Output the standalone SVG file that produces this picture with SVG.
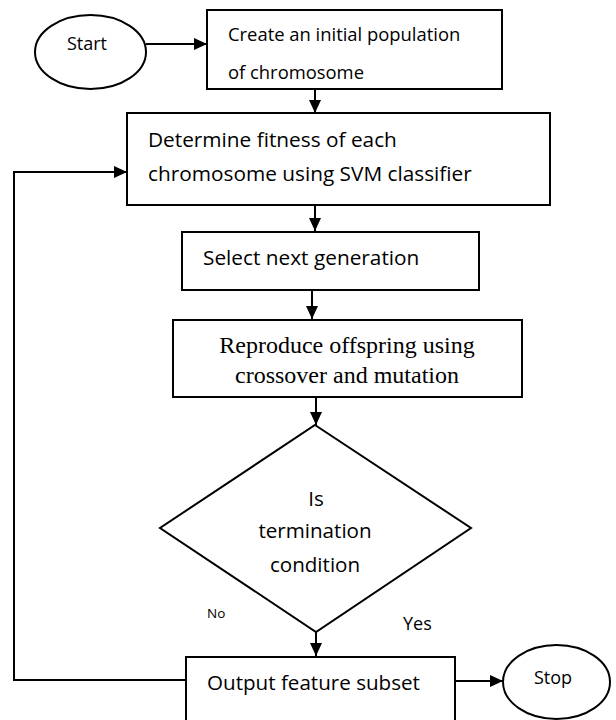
<svg xmlns="http://www.w3.org/2000/svg" width="616" height="720" viewBox="0 0 616 720">
<style>
.box{fill:#fff;stroke:#000;stroke-width:2}
.ln{fill:none;stroke:#000;stroke-width:2}
.t{font-family:"Open Sans","Liberation Sans",sans-serif;fill:#000}
.s{font-family:"Liberation Serif","Times New Roman",serif;fill:#000}
</style>
<defs>
<marker id="ah" markerUnits="userSpaceOnUse" markerWidth="14" markerHeight="14" viewBox="0 0 14 14" refX="13" refY="7" orient="auto">
<path d="M0,1 L13,7 L0,13 Z" fill="#000"/>
</marker>
</defs>
<rect width="616" height="720" fill="#fff"/>
<g id="connectors">
<line class="ln" x1="146" y1="44" x2="207" y2="44" marker-end="url(#ah)"/>
<line class="ln" x1="315" y1="89" x2="315" y2="113" marker-end="url(#ah)"/>
<line class="ln" x1="315" y1="205" x2="315" y2="231" marker-end="url(#ah)"/>
<line class="ln" x1="312" y1="290" x2="312" y2="319" marker-end="url(#ah)"/>
<line class="ln" x1="316" y1="397" x2="316" y2="425" marker-end="url(#ah)"/>
<line class="ln" x1="316" y1="632" x2="316" y2="656" marker-end="url(#ah)"/>
<line class="ln" x1="455" y1="681" x2="503" y2="681" marker-end="url(#ah)"/>
<polyline class="ln" points="186,680 14,680 14,172 127,172" marker-end="url(#ah)"/>
<text class="t" x="207" y="618" font-size="13.5">No</text>
<text class="t" x="403" y="630" font-size="18">Yes</text>
</g>
<g id="start">
<ellipse class="box" cx="90.5" cy="52" rx="55.5" ry="37"/>
<text class="t" x="87" y="50" font-size="18" text-anchor="middle">Start</text>
</g>
<g id="create">
<rect class="box" x="207" y="10" width="295" height="79"/>
<text class="t" x="228" y="41" font-size="18.4">Create an initial population</text>
<text class="t" x="228" y="79" font-size="18.4">of chromosome</text>
</g>
<g id="fitness">
<rect class="box" x="127" y="113" width="423" height="92"/>
<text class="t" x="148" y="147" font-size="20.8">Determine fitness of each</text>
<text class="t" x="148" y="181" font-size="20.8">chromosome using SVM classifier</text>
</g>
<g id="select">
<rect class="box" x="182" y="232" width="297" height="58"/>
<text class="t" x="203" y="265" font-size="20.8">Select next generation</text>
</g>
<g id="reproduce">
<rect class="box" x="173" y="320" width="349" height="77"/>
<text class="s" x="347" y="353" font-size="24" text-anchor="middle">Reproduce offspring using</text>
<text class="s" x="347" y="383" font-size="24" text-anchor="middle">crossover and mutation</text>
</g>
<g id="decision">
<polygon class="box" points="315,425 471,528 316,632 160,528"/>
<text class="t" x="316" y="506" font-size="20.6" text-anchor="middle">Is</text>
<text class="t" x="315" y="538" font-size="20.6" text-anchor="middle">termination</text>
<text class="t" x="315" y="572" font-size="20.6" text-anchor="middle">condition</text>
</g>
<g id="output">
<rect class="box" x="186" y="657" width="269" height="75"/>
<text class="t" x="207" y="690" font-size="20.6">Output feature subset</text>
</g>
<g id="stop">
<ellipse class="box" cx="556.5" cy="682" rx="53.5" ry="37"/>
<text class="t" x="553" y="684" font-size="18" text-anchor="middle">Stop</text>
</g>
</svg>
